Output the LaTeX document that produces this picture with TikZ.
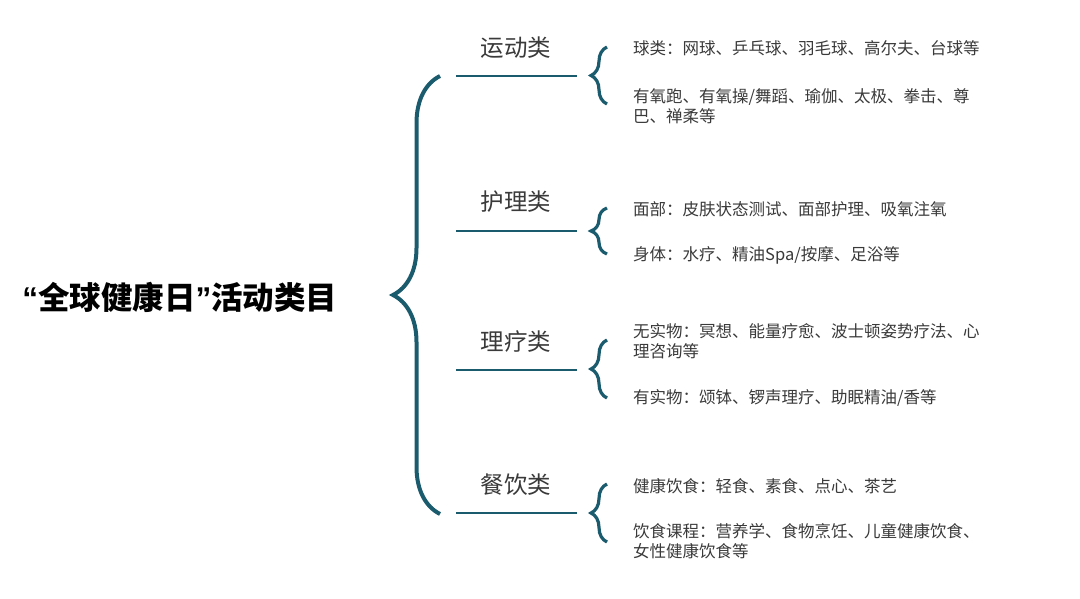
\documentclass[tikz,border=0pt]{standalone}
\usepackage{fontspec}
\usepackage{xcolor}
\usepackage{tikz}
\usetikzlibrary{decorations.pathreplacing}
\setmainfont{Noto Sans CJK SC}
\newfontfamily\quotefont{Liberation Sans}
\definecolor{teal}{HTML}{1B5B6E}
\definecolor{txtgray}{HTML}{3A3A3A}
\tikzset{
  bigbrace/.style={draw=teal,line width=4pt,decorate,decoration={brace,amplitude=47pt}},
  smallbrace/.style={draw=teal,line width=3.2pt,decorate,decoration={brace,amplitude=16pt}},
  underline/.style={draw=teal,line width=2.8pt},
  category/.style={text=txtgray,font=\fontsize{23.5}{26}\selectfont,inner sep=0pt},
  leaf/.style={anchor=west,align=left,text=txtgray,font=\fontsize{16.5}{20}\selectfont,inner sep=0pt}
}

\begin{document}
\begin{tikzpicture}[x=1pt,y=-1pt]
\useasboundingbox[fill=white] (0,0) rectangle (1080,599);
\node[font=\fontsize{31.5}{34}\selectfont\bfseries,inner sep=0pt] (title) at (180,297) {{\quotefont\bfseries “}全球健康日{\quotefont\bfseries ”}活动类目};
\coordinate (bigtop) at (440,76);
\coordinate (bigbot) at (440,514);
\draw[bigbrace] (bigbot) -- (bigtop);

\node[category] (sport) at (516,48) {运动类};
\coordinate (u1w) at (456,76);
\coordinate (u1e) at (577,76);
\draw[underline] (u1w) -- (u1e);
\coordinate (b1t) at (607,47);
\coordinate (b1b) at (607,104);
\draw[smallbrace] (b1b) -- (b1t);
\node[leaf] (ball) at (633,48) {球类：网球、乒乓球、羽毛球、高尔夫、台球等};
\node[leaf] (aerobic) at (633,106) {有氧跑、有氧操/舞蹈、瑜伽、太极、拳击、尊\\巴、禅柔等};

\node[category] (care) at (516,202) {护理类};
\coordinate (u2w) at (456,231);
\coordinate (u2e) at (577,231);
\draw[underline] (u2w) -- (u2e);
\coordinate (b2t) at (607,208);
\coordinate (b2b) at (607,254);
\draw[smallbrace] (b2b) -- (b2t);
\node[leaf] (face) at (633,209) {面部：皮肤状态测试、面部护理、吸氧注氧};
\node[leaf] (body) at (633,255) {身体：水疗、精油Spa/按摩、足浴等};

\node[category] (therapy) at (516,342) {理疗类};
\coordinate (u3w) at (456,370);
\coordinate (u3e) at (577,370);
\draw[underline] (u3w) -- (u3e);
\coordinate (b3t) at (607,340);
\coordinate (b3b) at (607,398);
\draw[smallbrace] (b3b) -- (b3t);
\node[leaf] (noobj) at (633,341.5) {无实物：冥想、能量疗愈、波士顿姿势疗法、心\\理咨询等};
\node[leaf] (withobj) at (633,398) {有实物：颂钵、锣声理疗、助眠精油/香等};

\node[category] (diet) at (516,485) {餐饮类};
\coordinate (u4w) at (456,513);
\coordinate (u4e) at (577,513);
\draw[underline] (u4w) -- (u4e);
\coordinate (b4t) at (607,484);
\coordinate (b4b) at (607,542);
\draw[smallbrace] (b4b) -- (b4t);
\node[leaf] (food) at (633,486) {健康饮食：轻食、素食、点心、茶艺};
\node[leaf] (course) at (633,541) {饮食课程：营养学、食物烹饪、儿童健康饮食、\\女性健康饮食等};
\end{tikzpicture}
\end{document}
